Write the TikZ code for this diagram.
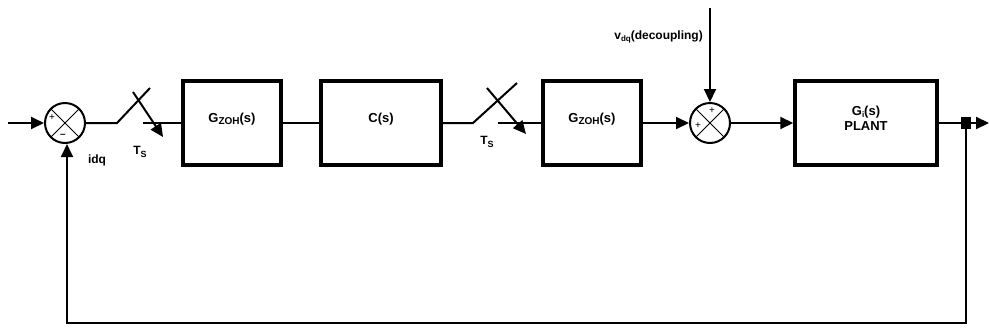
\documentclass[tikz,border=0pt]{standalone}
\usepackage{fontspec}
\setmainfont{Liberation Sans}
\usetikzlibrary{arrows.meta}
\begin{document}
\begin{tikzpicture}[x=1pt,y=-1pt,
  blk/.style={draw,line width=3.5pt,minimum width=98pt,minimum height=84pt,inner sep=0pt,font=\bfseries\fontsize{13}{15}\selectfont,align=center},
  sumnode/.style={draw,circle,line width=2pt,minimum size=40pt,inner sep=0pt,
    path picture={\draw[line width=1pt] (path picture bounding box.north west)--(path picture bounding box.south east)
      (path picture bounding box.north east)--(path picture bounding box.south west);}},
  wire/.style={line width=2pt},
  arr/.style={wire,-{Triangle[length=13pt,width=12pt]}},
  lbl/.style={font=\bfseries\fontsize{12}{14}\selectfont,inner sep=0pt},
  txt/.style={font=\bfseries\fontsize{13}{15}\selectfont,inner sep=0pt,align=center},
  sgn/.style={font=\fontsize{10}{11}\selectfont,inner sep=0pt}]
\useasboundingbox (0,0) rectangle (989,330);
% nodes
\node[sumnode] (s1) at (65,123) {};
\node[blk] (z1) at (232,123) {};
\node[blk,minimum width=120pt] (c) at (381,123) {};
\node[blk] (z2) at (592,123) {};
\node[sumnode] (s2) at (710,123) {};
\node[blk,minimum width=142pt] (p) at (866,123) {};
\node[txt] (tz1) at (232,119) {G\raisebox{-0.35ex}{\fontsize{10}{11}\selectfont ZOH}(s)};
\node[txt] (tc) at (381,119) {C(s)};
\node[txt] (tz2) at (592,119) {G\raisebox{-0.35ex}{\fontsize{10}{11}\selectfont ZOH}(s)};
\node[txt] (tp) at (866,118) {G\raisebox{-0.35ex}{\fontsize{8}{9}\selectfont i}(s)\\PLANT};
% signs
\node[sgn] at (52,118) {+};
\node[sgn] at (63,136) {\textbf{--}};
\node[sgn] at (698,126) {+};
\node[sgn] at (712,111) {+};
% coordinates
\coordinate (in) at (8,123);
\coordinate (sw1a) at (117,123);
\coordinate (sw1b) at (150,88);
\coordinate (sw1c) at (133,92);
\coordinate (sw1d) at (163,137);
\coordinate (sw1e) at (143,123);
\coordinate (sw2a) at (473,123);
\coordinate (sw2b) at (517,83);
\coordinate (sw2c) at (487,88);
\coordinate (sw2d) at (526,134);
\coordinate (sw2e) at (498,123);
\coordinate (vtop) at (710,8);
\coordinate (jn) at (966,123);
\coordinate (out) at (989,123);
\coordinate (fb1) at (966,323);
\coordinate (fb2) at (67,323);
% connectors
\draw[arr] (in) -- (s1.west);
\draw[wire] (s1.east) -- (sw1a) -- (sw1b);
\draw[arr] (sw1c) -- (sw1d);
\draw[wire] (sw1e) -- (z1.west);
\draw[wire] (z1.east) -- (c.west);
\draw[wire] (c.east) -- (sw2a) -- (sw2b);
\draw[arr] (sw2c) -- (sw2d);
\draw[wire] (sw2e) -- (z2.west);
\draw[arr] (z2.east) -- (s2.west);
\draw[arr] (vtop) -- (s2.north);
\draw[arr] (s2.east) -- (p.west);
\draw[arr] (p.east) -- (out);
\fill (jn) ++(-5,-6) rectangle ++(10,12);
\draw[arr,line width=1.8pt] (jn) -- (fb1) -- (fb2) -- (fb2 |- s1.south);
% labels
\node[lbl] at (97,160) {idq};
\node[lbl] at (140,152) {T\raisebox{-0.4ex}{\fontsize{9}{10}\selectfont S}};
\node[lbl] at (487,142) {T\raisebox{-0.4ex}{\fontsize{9}{10}\selectfont S}};
\node[lbl,anchor=east] at (703,37) {v\raisebox{-0.4ex}{\fontsize{8}{9}\selectfont dq}(decoupling)};
\end{tikzpicture}
\end{document}
